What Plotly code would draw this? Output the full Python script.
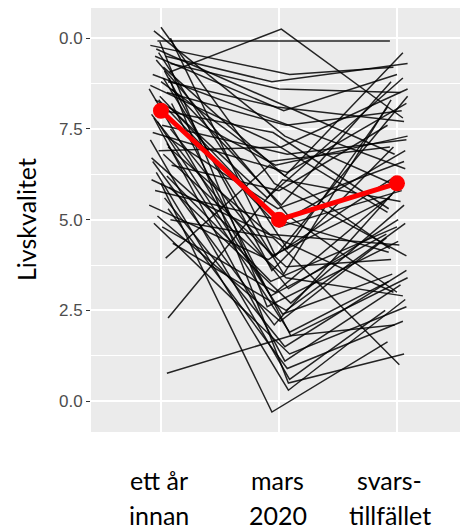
import plotly.graph_objects as go

# categories (x positions 1,2,3) and labels
categories = [1, 2, 3]
cat_labels_top = ["ett år", "mars", "svars-"]
cat_labels_bottom = ["innan", "2020", "tillfället"]

# individual values at the three time points
s1 = [10.2, 9.92, 9.06, 10.3, 9.8, 9.5, 9.6, 9.3, 9.0, 8.9, 9.4, 8.8, 8.6, 8.5, 8.3, 8.2,
      8.4, 8.0, 7.9, 8.1, 7.7, 7.6, 7.5, 7.8, 7.3, 7.2, 7.0, 6.9, 6.8, 6.6, 6.5, 6.3,
      6.2, 6.1, 6.0, 5.9, 5.8, 5.6, 5.4, 5.3, 5.1, 5.0, 4.9, 4.8, 4.35, 3.94, 2.29, 0.77,
      9.7, 9.2, 8.7, 8.9, 9.9, 8.6, 7.4, 9.1, 8.3, 7.1, 10.0, 9.5, 8.8, 6.7]
s2 = [7.3, 9.92, 10.25, 6.0, 9.0, 8.8, 4.2, 8.6, 7.8, 3.5, 5.1, 8.1, 2.9, 7.6, 6.5, 1.8,
      4.9, 7.4, 3.1, 5.6, 2.4, 6.8, 4.0, 1.1, 5.3, 0.6, 4.6, 7.0, 3.7, 2.1, 5.8, 0.3,
      3.3, 4.4, -0.3, 2.7, 5.0, 1.5, 3.9, 0.9, 2.2, 4.5, 1.3, 3.0, 2.5, 6.5, 6.1, 1.8,
      8.3, 6.2, 7.1, 0.5, 2.6, 5.4, 6.3, 3.6, 4.8, 1.9, 4.0, 8.0, 6.6, 3.4]
s3 = [5.9, 9.92, 7.8, 4.0, 9.2, 9.3, 8.1, 8.5, 6.4, 8.3, 3.0, 7.7, 4.6, 8.0, 7.3, 2.1,
      6.9, 5.3, 5.0, 8.9, 3.5, 7.2, 5.6, 3.2, 6.6, 2.5, 4.3, 8.6, 3.9, 6.0, 7.6, 2.8,
      4.8, 3.0, 1.63, 5.4, 4.1, 3.6, 6.2, 2.2, 4.5, 1.0, 2.6, 5.7, 4.9, 4.2, 5.5, 3.4,
      6.8, 9.6, 5.2, 1.3, 4.4, 8.8, 8.2, 7.0, 5.8, 3.3, 8.4, 9.0, 7.0, 2.9]
# horizontal jitter of each point (in category units)
j1 = [-0.06, -0.03, 0.07, 0.0, -0.09, 0.04, -0.02, 0.08, -0.07, 0.02, -0.04, 0.06, -0.1, 0.05,
      -0.05, 0.09, -0.01, 0.03, -0.08, 0.07, -0.03, 0.01, 0.08, -0.06, 0.04, -0.09, 0.06, -0.02,
      0.02, -0.07, 0.09, -0.04, 0.05, -0.08, 0.0, 0.07, -0.05, 0.03, -0.1, 0.06, -0.03, 0.08,
      -0.06, 0.01, 0.1, 0.04, 0.06, 0.05, -0.04, 0.02, -0.09, 0.07, -0.01, 0.09, -0.07, 0.03,
      -0.02, 0.05, 0.08, -0.05, 0.0, -0.08]
j2 = [0.05, -0.08, 0.02, -0.04, 0.09, -0.06, 0.07, 0.0, -0.09, 0.04, 0.08, -0.02, -0.07, 0.06,
      -0.03, 0.1, 0.01, -0.05, 0.08, -0.1, 0.03, 0.07, -0.06, 0.05, -0.01, 0.09, -0.08, 0.02,
      0.06, -0.04, 0.0, 0.08, -0.07, 0.04, -0.06, 0.1, -0.02, 0.05, -0.09, 0.07, 0.01, -0.05,
      0.09, -0.03, 0.06, -0.08, 0.03, 0.1, -0.07, 0.05, -0.04, 0.08, -0.1, 0.02, 0.07, -0.06,
      0.0, 0.09, -0.03, 0.04, -0.08, 0.06]
j3 = [0.02, -0.06, 0.05, 0.08, -0.03, 0.09, -0.08, 0.03, 0.07, -0.05, 0.0, 0.06, -0.09, 0.04,
      0.09, -0.02, 0.07, -0.07, 0.01, 0.05, -0.04, 0.08, -0.06, 0.03, 0.06, -0.1, 0.02, 0.09,
      -0.05, 0.04, -0.08, 0.07, 0.0, -0.03, -0.08, 0.06, -0.07, 0.08, -0.01, 0.05, -0.09, 0.02,
      0.08, -0.04, 0.07, -0.06, 0.03, 0.09, -0.02, 0.05, -0.08, 0.06, 0.01, -0.05, 0.08, -0.03,
      0.04, -0.07, 0.09, 0.0, -0.06, 0.05]

# mean line
means = [8.0, 5.0, 6.0]

# y axis ticks
ytickvals = [0, 2.5, 5, 7.5, 10]
yticktext = ["0.0", "2.5", "5.0", "7.5", "0.0"]

fig = go.Figure()
for a, b, c, ja, jb, jc in zip(s1, s2, s3, j1, j2, j3):
    fig.add_trace(go.Scatter(
        x=[categories[0] + ja, categories[1] + jb, categories[2] + jc],
        y=[a, b, c], mode="lines",
        line=dict(color="rgba(0,0,0,0.85)", width=1.5),
        hoverinfo="skip", showlegend=False))

fig.add_trace(go.Scatter(
    x=categories, y=means, mode="lines+markers",
    line=dict(color="#FF0000", width=5),
    marker=dict(color="#FF0000", size=16),
    showlegend=False))

W, H = 460, 532
ml, mt, mb = 91, 8, 100
fig.update_layout(
    width=W, height=H,
    margin=dict(l=ml, r=0, t=mt, b=mb),
    paper_bgcolor="white", plot_bgcolor="#EBEBEB",
    showlegend=False,
)
fig.update_xaxes(
    range=[0.407, 3.534], tickvals=categories, showticklabels=False,
    showgrid=True, gridcolor="white", gridwidth=1.5,
    zeroline=False, ticks="", showline=False,
)
fig.update_yaxes(
    range=[-0.85, 10.83], tickvals=ytickvals, ticktext=yticktext,
    showgrid=True, gridcolor="white", gridwidth=1.5,
    minor=dict(tickvals=[1.25, 3.75, 6.25, 8.75], showgrid=True, gridcolor="white", gridwidth=0.7, ticks=""),
    zeroline=False, ticks="outside", ticklen=4, tickcolor="#333333", tickwidth=1,
    tickfont=dict(family="Liberation Sans, Arial", size=17, color="#4D4D4D"),
    showline=False,
)

label_font = dict(family="Lato, Open Sans, sans-serif", size=25, color="black")
panel_h = H - mt - mb
def py(pix):
    return (H - mb - pix) / panel_h

xs = [0.985, 1.99, 2.94]
for x, t1, t2 in zip(xs, cat_labels_top, cat_labels_bottom):
    fig.add_annotation(x=x, xref="x", y=py(480), yref="paper", text=t1, showarrow=False,
                       xanchor="center", yanchor="middle", font=label_font)
    fig.add_annotation(x=x, xref="x", y=py(515), yref="paper", text=t2, showarrow=False,
                       xanchor="center", yanchor="middle", font=label_font)

fig.add_annotation(x=(26 - ml) / (W - ml), xref="paper", y=0.5, yref="paper",
                   text="Livskvalitet", textangle=-90, showarrow=False,
                   xanchor="center", yanchor="middle", font=label_font)

fig.write_html("out.html")
